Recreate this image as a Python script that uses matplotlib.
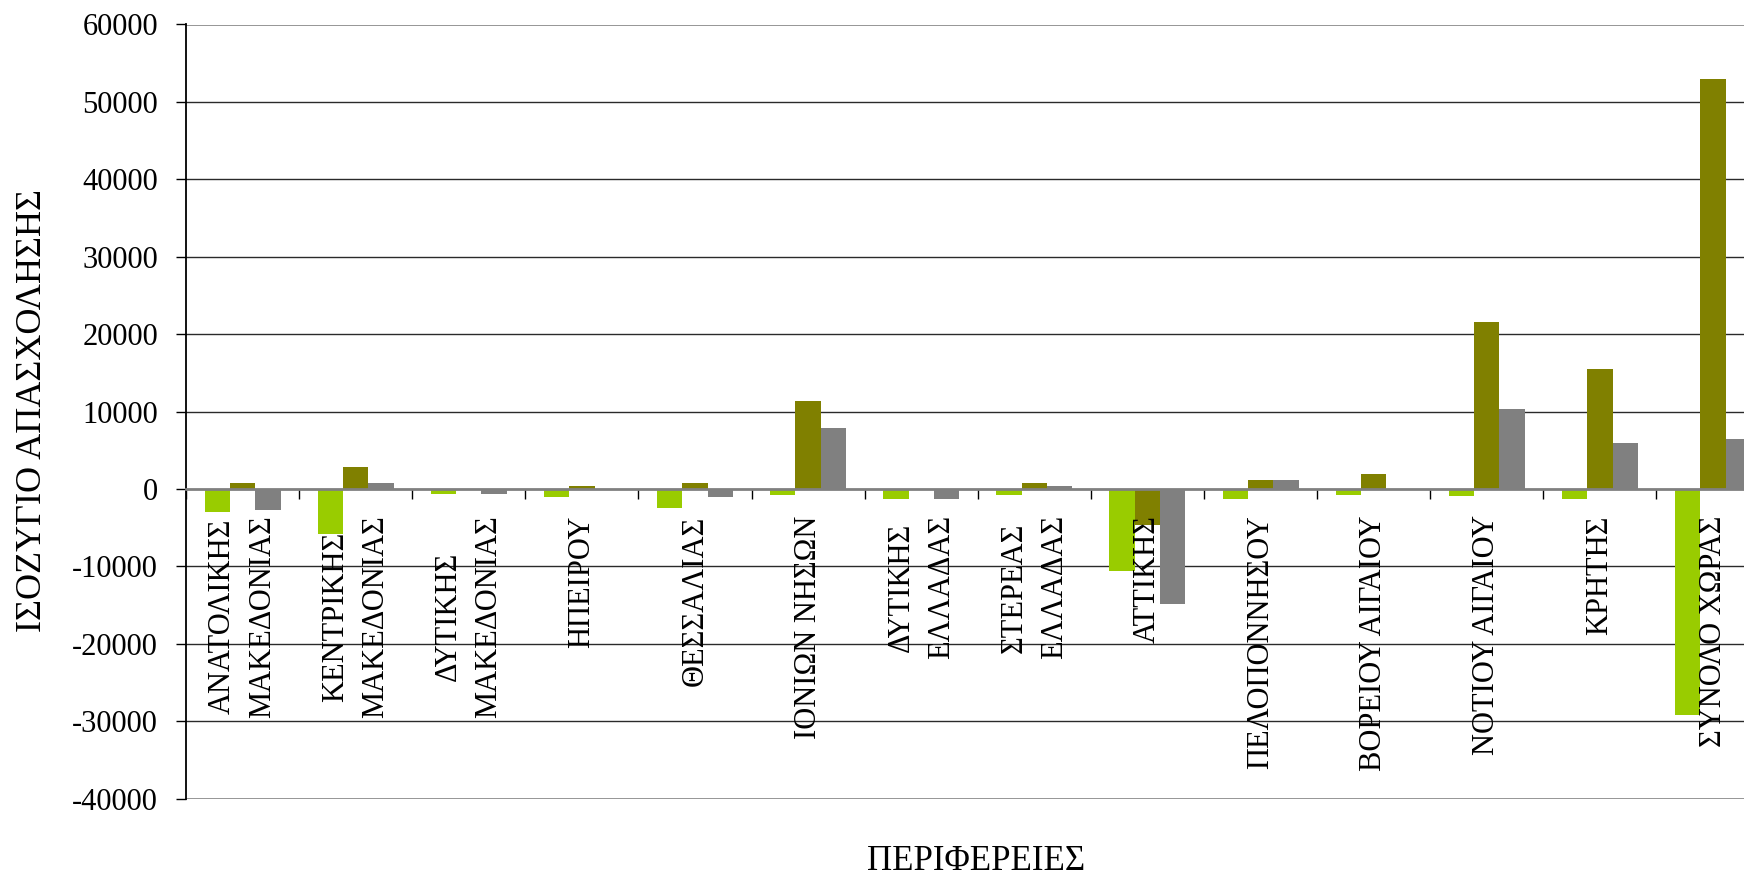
import matplotlib
matplotlib.use("Agg")
import matplotlib.pyplot as plt
import numpy as np

plt.rcParams['font.family'] = ['Liberation Serif', 'DejaVu Serif']
plt.rcParams['axes.unicode_minus'] = False

regions = [
    "ΑΝΑΤΟΛΙΚΗΣ\nΜΑΚΕΔΟΝΙΑΣ",
    "ΚΕΝΤΡΙΚΗΣ\nΜΑΚΕΔΟΝΙΑΣ",
    "ΔΥΤΙΚΗΣ\nΜΑΚΕΔΟΝΙΑΣ",
    "ΗΠΕΙΡΟΥ",
    "ΘΕΣΣΑΛΙΑΣ",
    "ΙΟΝΙΩΝ ΝΗΣΩΝ",
    "ΔΥΤΙΚΗΣ\nΕΛΛΑΔΑΣ",
    "ΣΤΕΡΕΑΣ\nΕΛΛΑΔΑΣ",
    "ΑΤΤΙΚΗΣ",
    "ΠΕΛΟΠΟΝΝΗΣΟΥ",
    "ΒΟΡΕΙΟΥ ΑΙΓΑΙΟΥ",
    "ΝΟΤΙΟΥ ΑΙΓΑΙΟΥ",
    "ΚΡΗΤΗΣ",
    "ΣΥΝΟΛΟ ΧΩΡΑΣ",
]

series_green = [-3000, -5800, -700, -1000, -2400, -800, -1300, -800, -10600, -1300, -800, -900, -1300, -29200]
series_olive = [800, 2900, 0, 400, 800, 11300, 0, 800, -4700, 1100, 1900, 21600, 15500, 52900]
series_gray = [-2700, 800, -700, 0, -1000, 7900, -1300, 400, -14900, 1100, 0, 10300, 5900, 6500]

y_ticks = [-40000, -30000, -20000, -10000, 0, 10000, 20000, 30000, 40000, 50000, 60000]
y_tick_labels = [str(v) for v in y_ticks]

colors = ["#99CC00", "#808000", "#808080"]

fig = plt.figure(figsize=(17.44, 8.76), dpi=100)
# plot area runs slightly past the right edge of the canvas
ax = fig.add_axes([186 / 1744, 77.4 / 876, 1583.6 / 1744, (798.6 - 24.5) / 876])

n = len(regions)
centers = np.arange(n) + 0.5
w = 0.224
for k, (vals, c) in enumerate(zip([series_green, series_olive, series_gray], colors)):
    ax.bar(centers + (k - 1) * w, vals, width=w, color=c, zorder=1, linewidth=0)

ax.set_xlim(0, n)
ax.set_ylim(-40000, 60000)

# horizontal gridlines behind bars
for v in y_ticks:
    if v in (60000, -40000):
        ax.axhline(v, color="#8c8c8c", lw=2.0, zorder=0.5)
    elif v != 0:
        ax.axhline(v, color="#2a2a2a", lw=1.0, zorder=0.5)

ax.spines['top'].set_visible(False)
ax.spines['right'].set_visible(False)
ax.spines['left'].set_color("black")
ax.spines['left'].set_linewidth(1.3)
ax.spines['bottom'].set_position(('data', 0))
ax.spines['bottom'].set_color("#808080")
ax.spines['bottom'].set_linewidth(2.0)

ax.set_yticks(y_ticks)
ax.set_yticklabels(y_tick_labels)
ax.tick_params(axis='y', direction='out', length=7, width=1, color='black',
               labelsize=22, pad=13)

ax.set_xticks(np.arange(n + 1))
ax.set_xticklabels([])
ax.set_xticks(centers, minor=True)
ax.set_xticklabels(regions, minor=True, rotation=90, ha='center', va='top',
                   multialignment='center', linespacing=1.5)
ax.tick_params(axis='x', which='major', direction='out', length=7, width=1, color='black')
ax.tick_params(axis='x', which='minor', length=0, labelsize=22, pad=19)

fig.text(33 / 1744, 1 - 411 / 876, "ΙΣΟΖΥΓΙΟ ΑΠΑΣΧΟΛΗΣΗΣ", fontsize=26,
         rotation=90, ha='center', va='center')
fig.text(976 / 1744, 1 - 862 / 876, "ΠΕΡΙΦΕΡΕΙΕΣ", fontsize=25, ha='center', va='center')

fig.savefig("out.png", dpi=100)
